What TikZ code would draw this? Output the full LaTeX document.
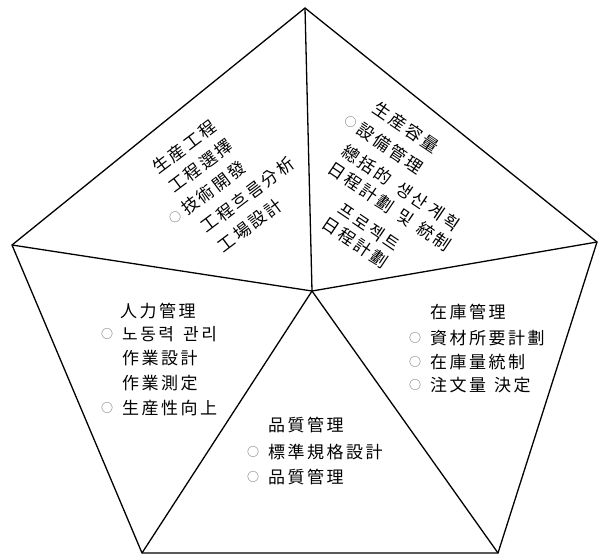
\documentclass[tikz,border=0pt]{standalone}
\usepackage{fontspec}
\newfontfamily\krfont[LetterSpace=14.7]{Noto Sans CJK KR}
\newcommand{\okcirc}[1]{\llap{\raisebox{1.9pt}{\fontsize{12}{12}\selectfont\color{black!60}○}\hspace{#1}}}
\begin{document}
\begin{tikzpicture}[x=1pt,y=-1pt,
  edge/.style={line width=1.3pt, line join=miter},
  txt/.style={font=\krfont\fontsize{17}{17}\selectfont, inner sep=0pt, anchor=west, text height=14.3pt, text depth=1.4pt}]
\path[fill=white] (0,0) rectangle (599,558);
\useasboundingbox (0,0) rectangle (599,558);
% pentagon vertices
\coordinate (T) at (305,8);
\coordinate (R) at (597,242);
\coordinate (BR) at (498,553);
\coordinate (BL) at (142,553);
\coordinate (L) at (12,245);
\coordinate (C) at (312,291);
\draw[edge] (T) -- (R) -- (BR) -- (BL) -- (L) -- cycle;
\draw[edge] (C) -- (T);
\draw[edge] (C) -- (R);
\draw[edge] (C) -- (BR);
\draw[edge] (C) -- (BL);
\draw[edge] (C) -- (L);
% top-left sector
\node[txt, rotate=37] (a1) at (154.2,169.9) {生産工程};
\node[txt, rotate=37] (a2) at (170.2,188.9) {工程選擇};
\node[txt, rotate=37] (a3) at (183.2,210.9) {\okcirc{4pt}技術開發};
\node[txt, rotate=37] (a4) at (202.4,228.8) {工程흐름分析};
\node[txt, rotate=37] (a5) at (219.6,248.4) {工場設計};
% top-right sector
\node[txt, rotate=-34] (b1) at (374.9,106.5) {生産容量};
\node[txt, rotate=-34] (b2) at (358.9,127.5) {\okcirc{4pt}設備管理};
\node[txt, rotate=-34] (b3) at (343.9,149.5) {總括的\hspace{9pt}생산\hspace{5pt}계획};
\node[txt, rotate=-34] (b4) at (329.9,166.5) {日程計劃\hspace{8pt}및\hspace{8pt}統制};
\node[txt, rotate=-34] (b5) at (339.9,207.5) {프로젝트};
\node[txt, rotate=-34] (b6) at (323.9,221.5) {日程計劃};
% left sector
\node[txt] (c1) at (120,311) {人力管理};
\node[txt] (c2) at (122,334) {\okcirc{9pt}노동력\hspace{9pt}관리};
\node[txt] (c3) at (122,358) {作業設計};
\node[txt] (c4) at (122,383) {作業測定};
\node[txt] (c5) at (122,408) {\okcirc{9pt}生産性向上};
% right sector
\node[txt] (d1) at (430,312) {在庫管理};
\node[txt] (d2) at (430,338) {\okcirc{9pt}資材所要計劃};
\node[txt] (d3) at (430,362) {\okcirc{9pt}在庫量統制};
\node[txt] (d4) at (430,385) {\okcirc{9pt}注文量\hspace{8pt}決定};
% bottom sector
\node[txt] (e1) at (268,425) {品質管理};
\node[txt] (e2) at (268,452) {\okcirc{9pt}標準規格設計};
\node[txt] (e3) at (268,477) {\okcirc{9pt}品質管理};
\end{tikzpicture}
\end{document}
